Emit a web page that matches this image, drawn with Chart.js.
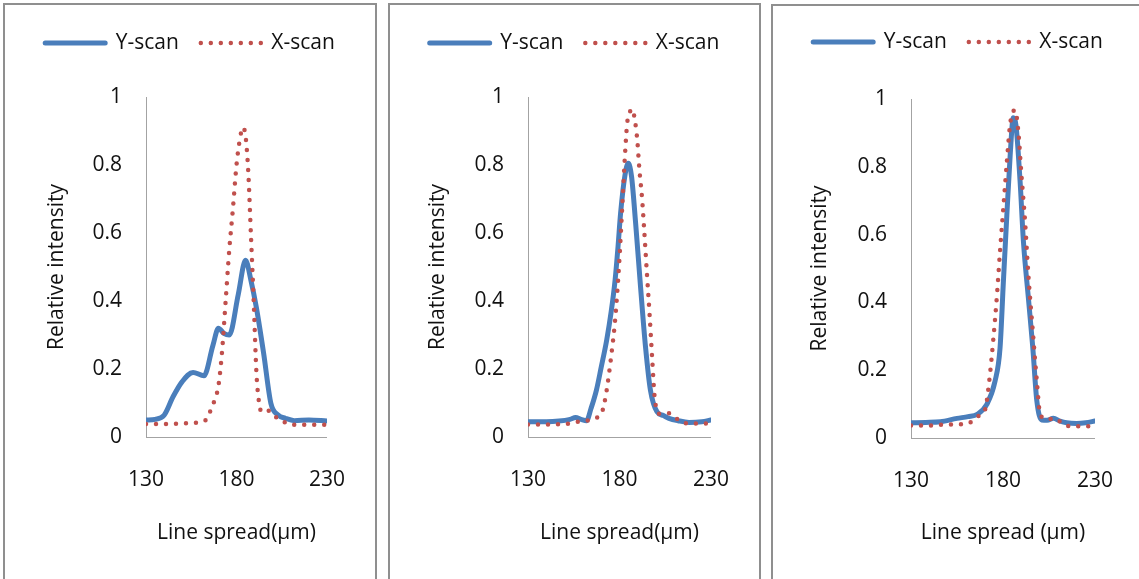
<!DOCTYPE html>
<html>
<head>
<meta charset="utf-8">
<script src="https://cdn.jsdelivr.net/npm/chart.js@4.4.1/dist/chart.umd.min.js"></script>
<style>
  body { margin: 0; background: #fff; overflow: hidden; }
  .panel { position: absolute; border: 2px solid #8f8f8f; background: #fff; }
  .panel canvas { display: block; }
</style>
</head>
<body>
<div class="panel" style="left:3px; top:3px; width:370px; height:600px;"><canvas id="chart1" width="370" height="574"></canvas></div>
<div class="panel" style="left:388px; top:3px; width:369px; height:600px;"><canvas id="chart2" width="369" height="574"></canvas></div>
<div class="panel" style="left:771px; top:4px; width:370px; height:600px;"><canvas id="chart3" width="370" height="573"></canvas></div>

<script>
// Series names and axis ticks shared by the three plots
const seriesNames = ['Y-scan', 'X-scan'];
const xTickValues = [130, 180, 230];
const yTickValues = [0, 0.2, 0.4, 0.6, 0.8, 1];
const yTickLabels = ['0', '0.2', '0.4', '0.6', '0.8', '1'];

// Plot 1
const p1YscanX = [130, 135, 140, 145, 150, 156, 162, 167, 170, 173, 176, 181, 185, 188, 191, 195, 199, 203, 207, 212, 220, 230];
const p1YscanY = [0.05, 0.052, 0.064, 0.119, 0.163, 0.19, 0.18, 0.27, 0.32, 0.305, 0.30, 0.42, 0.52, 0.46, 0.38, 0.246, 0.099, 0.065, 0.055, 0.048, 0.05, 0.047];
const p1XscanX = [130, 140, 150, 160, 163, 165, 168, 170, 172, 174, 176, 178, 180, 182, 183.5, 185, 186.5, 188, 189.5, 191, 192.5, 194, 198, 202, 206, 210, 220, 230];
const p1XscanY = [0.038, 0.038, 0.04, 0.044, 0.05, 0.07, 0.11, 0.15, 0.25, 0.40, 0.55, 0.67, 0.80, 0.88, 0.91, 0.885, 0.78, 0.59, 0.40, 0.19, 0.10, 0.073, 0.077, 0.058, 0.045, 0.036, 0.036, 0.036];

// Plot 2
const p2YscanX = [130, 140, 147, 153, 156, 159, 162, 164.5, 167.4, 170, 173, 175.5, 177.6, 179.2, 180.6, 183, 184.8, 186.6, 188.8, 191.5, 194.2, 196.9, 200.5, 204, 207, 212, 218, 225, 230];
const p2YscanY = [0.045, 0.045, 0.047, 0.052, 0.057, 0.052, 0.048, 0.085, 0.138, 0.205, 0.285, 0.37, 0.462, 0.56, 0.658, 0.77, 0.805, 0.766, 0.63, 0.442, 0.266, 0.138, 0.074, 0.063, 0.055, 0.048, 0.043, 0.045, 0.05];
const p2XscanX = [130, 140, 150, 156, 162, 167, 170.7, 173, 175.2, 177.6, 179.7, 181.5, 183, 184.2, 185.6, 187, 188.4, 189.7, 190.9, 192.4, 193.6, 195, 196.4, 197.8, 199.2, 201.8, 205, 207.4, 212.3, 216.8, 223, 230];
const p2XscanY = [0.037, 0.037, 0.038, 0.044, 0.048, 0.055, 0.077, 0.138, 0.226, 0.344, 0.50, 0.677, 0.829, 0.923, 0.955, 0.964, 0.932, 0.874, 0.785, 0.697, 0.60, 0.48, 0.364, 0.236, 0.118, 0.068, 0.068, 0.07, 0.05, 0.04, 0.04, 0.04];

// Plot 3
const p3YscanX = [130, 138, 146, 155, 161, 166, 171.2, 175.7, 178.4, 180.2, 182.1, 183.9, 185.6, 187.1, 189.3, 191.1, 193.8, 196.2, 198.4, 201.1, 204, 207.4, 211, 214.6, 220, 225, 230];
const p3YscanY = [0.045, 0.046, 0.048, 0.058, 0.063, 0.07, 0.099, 0.168, 0.266, 0.46, 0.658, 0.834, 0.945, 0.92, 0.756, 0.58, 0.413, 0.266, 0.109, 0.053, 0.052, 0.058, 0.05, 0.045, 0.043, 0.045, 0.05];
const p3XscanX = [130, 140, 150, 158, 162, 166.7, 170.3, 172.7, 174.8, 176.7, 178.5, 180.3, 182.1, 183.9, 185.3, 186.6, 188.4, 189.9, 192, 193.8, 196.2, 198.4, 200.2, 203.8, 208.3, 212.8, 217.3, 230];
const p3XscanY = [0.037, 0.037, 0.04, 0.041, 0.045, 0.065, 0.084, 0.177, 0.295, 0.42, 0.56, 0.687, 0.815, 0.927, 0.96, 0.967, 0.90, 0.785, 0.638, 0.48, 0.315, 0.168, 0.07, 0.055, 0.058, 0.04, 0.035, 0.035];

Chart.defaults.font.family = "'Open Sans', 'Noto Sans', sans-serif";
Chart.defaults.font.size = 21;
Chart.defaults.color = '#111';

const toPoints = (xs, ys) => xs.map((x, i) => ({ x: x, y: ys[i] }));

// Draws one plot; box holds the plot area edges inside the canvas
function drawPanel(id, box, yScan, xScan, xTitle) {
    const canvas = document.getElementById(id);
    const w = canvas.width, h = canvas.height;
    const lineH = 21 * 1.2;
    const legendPad = 22;
    const padTop = box.legendY - legendPad - 10.5;
    const legendHeight = 21 + legendPad + 10;
    const spacer = box.top - padTop - legendHeight - 12;

    new Chart(canvas.getContext('2d'), {
        type: 'line',
        data: {
            datasets: [{
                label: seriesNames[0],
                data: toPoints(yScan[0], yScan[1]),
                borderColor: '#4a7ebb',
                backgroundColor: '#4a7ebb',
                borderWidth: 5,
                borderCapStyle: 'round',
                borderJoinStyle: 'round',
                pointRadius: 0,
                cubicInterpolationMode: 'monotone',
                order: 1
            }, {
                label: seriesNames[1],
                data: toPoints(xScan[0], xScan[1]),
                borderColor: '#c0504d',
                backgroundColor: '#c0504d',
                borderWidth: 4.5,
                borderDash: [0, 10],
                borderCapStyle: 'round',
                pointRadius: 0,
                cubicInterpolationMode: 'monotone',
                order: 0
            }]
        },
        options: {
            responsive: false,
            animation: false,
            layout: { padding: { left: 0, right: 0, top: padTop, bottom: 0 } },
            plugins: {
                legend: {
                    position: 'top',
                    weight: 3000,
                    labels: {
                        boxWidth: 60,
                        boxHeight: 0,
                        padding: legendPad,
                        color: '#111',
                        sort: (a, b) => a.datasetIndex - b.datasetIndex
                    }
                },
                // empty title keeps the gap between legend and plot
                title: {
                    display: true,
                    text: '',
                    font: { size: 10 },
                    padding: { top: 0, bottom: spacer }
                },
                tooltip: { enabled: false }
            },
            scales: {
                x: {
                    type: 'linear',
                    min: 130,
                    max: 230,
                    afterBuildTicks: s => { s.ticks = xTickValues.map(v => ({ value: v })); },
                    afterFit: s => { s.height = h - box.bottom; },
                    grid: { display: false, drawTicks: false },
                    border: { display: true, color: '#a3a3a3', width: 1 },
                    ticks: { padding: 30, maxRotation: 0, autoSkip: false },
                    title: {
                        display: true,
                        text: xTitle,
                        padding: { top: 0, bottom: h - box.xTitleY - lineH / 2 }
                    }
                },
                y: {
                    min: 0,
                    max: 1,
                    afterBuildTicks: s => { s.ticks = yTickValues.map(v => ({ value: v })); },
                    afterFit: s => { s.width = box.left; },
                    grid: { display: false, drawTicks: false },
                    border: { display: true, color: '#a3a3a3', width: 1 },
                    ticks: {
                        padding: 24,
                        callback: (v, i) => yTickLabels[i]
                    },
                    title: {
                        display: true,
                        text: 'Relative intensity',
                        padding: { top: box.yTitleX - lineH / 2, bottom: 0 }
                    }
                },
                // blank right-hand axis that leaves the empty margin right of the plot
                yRight: {
                    type: 'linear',
                    position: 'right',
                    min: 0,
                    max: 1,
                    afterFit: s => { s.width = w - box.right; },
                    grid: { display: false, drawTicks: false },
                    border: { display: false },
                    ticks: { display: false }
                }
            }
        }
    });
}

document.addEventListener('DOMContentLoaded', () => {
    drawPanel('chart1', { left: 141, right: 325, top: 92, bottom: 432, legendY: 38, yTitleX: 52, xTitleY: 528 },
        [p1YscanX, p1YscanY], [p1XscanX, p1XscanY], 'Line spread(\u03bcm)');
    drawPanel('chart2', { left: 138, right: 323, top: 92, bottom: 432, legendY: 38, yTitleX: 48, xTitleY: 528 },
        [p2YscanX, p2YscanY], [p2XscanX, p2XscanY], 'Line spread(\u03bcm)');
    drawPanel('chart3', { left: 138, right: 322, top: 93, bottom: 432, legendY: 36, yTitleX: 47, xTitleY: 527 },
        [p3YscanX, p3YscanY], [p3XscanX, p3XscanY], 'Line spread (\u03bcm)');
});
</script>
</body>
</html>
